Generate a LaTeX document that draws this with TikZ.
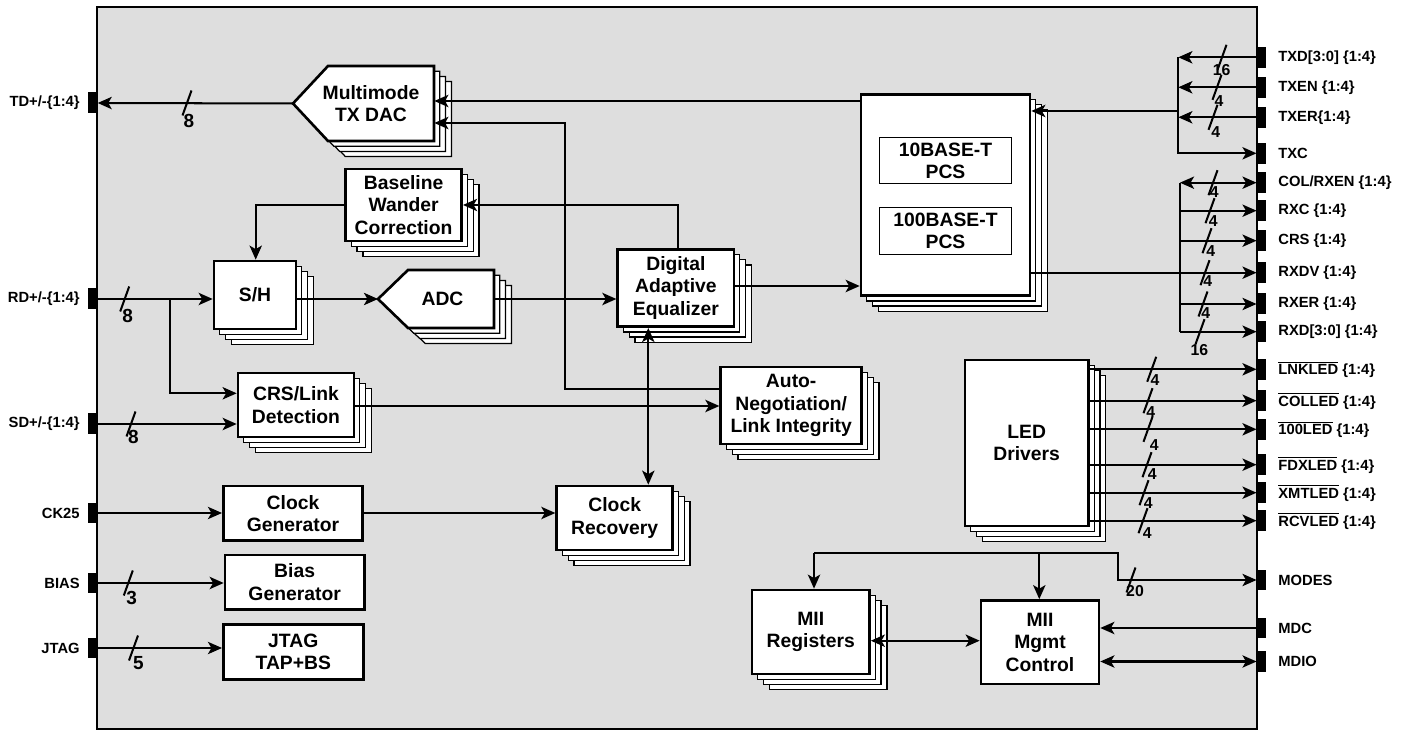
\documentclass[tikz,border=0pt]{standalone}
\usepackage{fontspec}
\setmainfont{Liberation Sans}
\usetikzlibrary{arrows.meta,fit,calc}
\definecolor{bg}{RGB}{222,222,222}
\newcommand\blkfont{\bfseries\fontsize{11}{12.7}\selectfont}
\newcommand\pinfont{\bfseries\fontsize{8.4}{10}\selectfont}
\newcommand\busLfont{\bfseries\fontsize{10.8}{12}\selectfont}
\newcommand\busRfont{\bfseries\fontsize{9}{10}\selectfont}
\tikzset{
 conn/.style={line width=1.15pt},
 arr/.style={conn,-{Stealth[length=8pt,width=7pt,inset=2pt]}},
 darr/.style={conn,{Stealth[length=8pt,width=7pt,inset=2pt]}-{Stealth[length=8pt,width=7pt,inset=2pt]}},
 blk/.style={draw,fill=white,line width=1.5pt,inner sep=0pt},
 txt/.style={align=center,font=\blkfont,inner sep=0pt},
 pentline/.style={draw,fill=white,line width=1.5pt},
 shad/.style={draw,fill=white,line width=0.7pt},
 pinbox/.style={fill=black,minimum width=0.185cm,minimum height=0.42cm,inner sep=0pt},
 lpin/.style={anchor=east,font=\pinfont,inner sep=0pt},
 rpin/.style={anchor=west,font=\pinfont,inner sep=0pt},
 bs/.style={line width=1.15pt},
 bnL/.style={font=\busLfont,inner sep=0pt},
 bnR/.style={font=\busRfont,inner sep=0pt},
}
\newcommand\stk[6]{%
 \foreach \k in {3,2,1}{\draw[shad] (#2+\k*5.8,#3+\k*5.2) rectangle (#4+\k*5.8,#5+\k*5.2);}
 \node[blk,fit={(#2,#3)(#4,#5)}] (#1) {};
 \node[txt] (#1-t) at (#1.center) {#6};}
\newcommand\plainblk[6]{%
 \node[blk,fit={(#2,#3)(#4,#5)}] (#1) {};
 \node[txt] (#1-t) at (#1.center) {#6};}
\newcommand\pent[6]{% name, xtip, yc, xshoulder, xright, halfh
 \foreach \k in {3,2,1}{\draw[shad] (#2+\k*5.8,#3+\k*5.2) -- (#4+\k*5.8,#3-#6+\k*5.2) -- (#5+\k*5.8,#3-#6+\k*5.2) -- (#5+\k*5.8,#3+#6+\k*5.2) -- (#4+\k*5.8,#3+#6+\k*5.2) -- cycle;}
 \draw[pentline] (#2,#3) -- (#4,#3-#6) -- (#5,#3-#6) -- (#5,#3+#6) -- (#4,#3+#6) -- cycle;
 \node[fit={(#4,#3-#6)(#5,#3+#6)},inner sep=0pt] (#1) {};
 \coordinate (#1-tip) at (#2,#3);}
\newcommand\bsl[2]{\draw[bs] (#1+4.5,#2-12.5) -- (#1-4.5,#2+12.5);}
\begin{document}
\begin{tikzpicture}[x=0.02cm,y=-0.02cm]
\useasboundingbox (0,0) rectangle (1419,732);
% chip body
\node[draw,fill=bg,line width=1.2pt,inner sep=0pt,fit={(97,7)(1257,729)}] (chip) {};
% left pins
\foreach \n/\y/\t in {TD/103/{TD+/-\{1:4\}},RD/299/{RD+/-\{1:4\}},SD/424/{SD+/-\{1:4\}},CK/513/{CK25},BIAS/583/{BIAS},JTAG/648/{JTAG}}{
 \node[pinbox] (p\n) at (92.7,\y) {};
 \node[lpin] (l\n) at (80,\y) {\t};
}
% right pins
\foreach \n/\y/\t in {TXD/57.3/{TXD[3:0] \{1:4\}},TXEN/87.3/{TXEN \{1:4\}},TXER/117.3/{TXER\{1:4\}},TXC/153.3/{TXC},COL/182.7/{COL/RXEN \{1:4\}},RXC/210.7/{RXC \{1:4\}},CRS/240.7/{CRS \{1:4\}},RXDV/272.7/{RXDV \{1:4\}},RXER/304/{RXER \{1:4\}},RXD/331.7/{RXD[3:0] \{1:4\}},LNK/369.3/{$\overline{\mbox{LNKLED}}$ \{1:4\}},COLL/400.7/{$\overline{\mbox{COLLED}}$ \{1:4\}},HUN/429.3/{$\overline{\mbox{100LED}}$ \{1:4\}},FDX/464.7/{$\overline{\mbox{FDXLED}}$ \{1:4\}},XMT/492.7/{$\overline{\mbox{XMTLED}}$ \{1:4\}},RCV/520.7/{$\overline{\mbox{RCVLED}}$ \{1:4\}},MODES/580/{MODES},MDC/628/{MDC},MDIO/661.5/{MDIO}}{
 \node[pinbox] (p\n) at (1261.5,\y) {};
 \node[rpin] (l\n) at (1278,\y) {\t};
}
% blocks
\pent{dac}{293}{103.5}{328}{434}{37.5}
\node[txt] (dactxt) at (371,103.5) {Multimode\\TX DAC};
\pent{adc}{378}{299}{408}{494}{29}
\node[txt] (adctxt) at (442.5,299) {ADC};
\stk{bwc}{345.5}{169}{461.7}{241}{Baseline\\Wander\\Correction}
\stk{sh}{214}{261}{296}{329}{S/H}
\stk{crs}{238}{373}{354}{437}{CRS/Link\\Detection}
\stk{dae}{617.7}{249.3}{734}{326.7}{Digital\\Adaptive\\Equalizer}
\stk{an}{720.7}{367}{861.7}{444}{Auto-\\Negotiation/\\Link Integrity}
\stk{cr}{556.7}{486}{672.7}{550}{Clock\\Recovery}
\plainblk{cg}{223.3}{486}{362.7}{540.7}{Clock\\Generator}
\plainblk{bg}{225}{555}{364.3}{609.3}{Bias\\Generator}
\plainblk{jt}{223.3}{624.3}{363.3}{679.3}{JTAG\\TAP+BS}
\stk{pcs}{861}{94.3}{1030}{295.7}{}
\node[blk,line width=0.6pt,fit={(879.3,137.7)(1011.7,183.7)}] (p10) {};
\node[txt] (p10-t) at (p10.center) {10BASE-T\\PCS};
\node[blk,line width=0.6pt,fit={(879.3,207.3)(1011.7,254.3)}] (p100) {};
\node[txt] (p100-t) at (p100.center) {100BASE-T\\PCS};
\stk{led}{965}{360}{1088.3}{526}{LED\\Drivers}
\stk{mreg}{752}{590}{869.5}{674}{MII\\Registers}
\plainblk{mgmt}{981}{600.5}{1099}{684}{MII\\Mgmt\\Control}
% connectors left
\draw[arr] (dac-tip) -- (pTD.east);
\draw[arr] (pcs.west |- 0,101) -- (dac.east |- 0,101);
\draw[arr] (an.west |- 0,389) -| (565,123) -- (dac.east |- 0,123);
\draw[arr] (dae.north -| 678,0) -- (678,205) -- (bwc.east |- 0,205);
\draw[arr] (bwc.west |- 0,205) -| (sh.north -| 255.7,0);
\draw[arr] (pRD.east) -- (sh.west |- pRD.east);
\coordinate (rdj) at (170,299);
\draw[arr] (rdj) |- (crs.west |- 0,393.3);
\draw[arr] (pSD.east) -- (crs.west |- pSD.east);
\draw[arr] (sh.east |- pRD.east) -- (adc-tip);
\draw[arr] (adc.east) -- (dae.west |- adc.east);
\draw[arr] (dae.east |- 0,286) -- (pcs.west |- 0,286);
\draw[arr] (crs.east |- 0,406) -- (an.west |- 0,406);
\draw[darr] (dae.south -| 648.3,0) -- (cr.north -| 648.3,0);
\draw[arr] (pCK.east) -- (cg.west |- pCK.east);
\draw[arr] (cg.east |- pCK.east) -- (cr.west |- pCK.east);
\draw[arr] (pBIAS.east) -- (bg.west |- pBIAS.east);
\draw[arr] (pJTAG.east) -- (jt.west |- pJTAG.east);
% TX side
\coordinate (txv) at (1178.3,0);
\foreach \n in {TXD,TXEN,TXER}{\draw[arr] (p\n.west) -- (p\n.west -| txv);}
\draw[arr] (pTXD.west -| txv) |- (pTXC.west);
\draw[arr] (txv |- 0,111) -- (pcs.east |- 0,111);
% RX side
\coordinate (rxv) at (1180,0);
\draw[conn] (rxv |- pCOL.west) -- (rxv |- pRXD.west);
\draw[darr] (rxv |- pCOL.west) -- (pCOL.west);
\foreach \n in {RXC,CRS,RXER,RXD}{\draw[arr] (rxv |- p\n.west) -- (p\n.west);}
\draw[arr] (pcs.east |- pRXDV.west) -- (pRXDV.west);
% LEDs
\foreach \n in {LNK,COLL,HUN,FDX,XMT,RCV}{\draw[arr] (led.east |- p\n.west) -- (p\n.west);}
% MII
\coordinate (mb1) at (814,553.3);
\coordinate (mb2) at (1039.3,553.3);
\coordinate (mb3) at (1118.3,553.3);
\draw[arr] (mb1) -- (mreg.north -| mb1);
\draw[arr] (mb2) -- (mgmt.north -| mb2);
\draw[arr] (mb1) -- (mb3) |- (pMODES.west);
\draw[darr] (mreg.east |- 0,640.7) -- (mgmt.west |- 0,640.7);
\draw[arr] (pMDC.west) -- (mgmt.east |- pMDC.west);
\draw[darr] (pMDIO.west) -- (mgmt.east |- pMDIO.west);
% bus slashes left
\bsl{187}{103} \node[bnL] (n1) at (189,121) {8};
\bsl{124.7}{299} \node[bnL] (n2) at (127.7,316) {8};
\bsl{131}{424} \node[bnL] (n3) at (133.3,437) {8};
\bsl{128.3}{583} \node[bnL] (n4) at (131.7,598.3) {3};
\bsl{133.5}{648} \node[bnL] (n5) at (138.3,663.3) {5};
% bus slashes right
\bsl{1222}{57.3} \node[bnR] (r1) at (1221.7,70) {16};
\bsl{1217}{87.3} \node[bnR] (r2) at (1219,101) {4};
\bsl{1213}{117.3} \node[bnR] (r3) at (1215.7,132) {4};
\bsl{1213}{182.7} \node[bnR] (r4) at (1214.3,192.3) {4};
\bsl{1210}{210.7} \node[bnR] (r5) at (1213.3,221) {4};
\bsl{1207}{240.7} \node[bnR] (r6) at (1210.7,250.7) {4};
\bsl{1205}{272.7} \node[bnR] (r7) at (1207.7,281) {4};
\bsl{1203}{304} \node[bnR] (r8) at (1205.7,313.3) {4};
\bsl{1200}{331.7} \node[bnR] (r9) at (1199.3,350) {16};
\bsl{1151.7}{369.3} \node[bnR] (r10) at (1155,380) {4};
\bsl{1148}{400.7} \node[bnR] (r11) at (1150.7,411.7) {4};
\bsl{1148}{429.3} \node[bnR] (r12) at (1154.3,445) {4};
\bsl{1147}{464.7} \node[bnR] (r13) at (1152.3,474) {4};
\bsl{1144}{492.7} \node[bnR] (r14) at (1148.3,502.7) {4};
\bsl{1143}{520.7} \node[bnR] (r15) at (1147.3,533.3) {4};
\bsl{1131}{580} \node[bnR] (r16) at (1135,591) {20};
\end{tikzpicture}
\end{document}
